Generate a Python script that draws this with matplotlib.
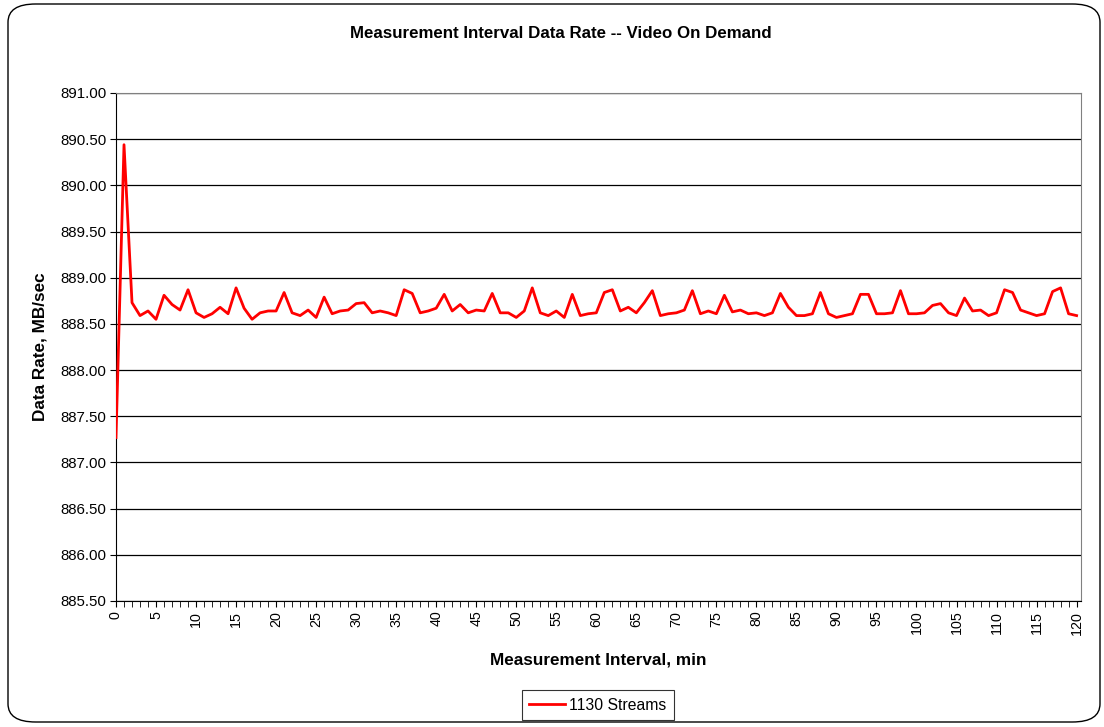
import matplotlib

matplotlib.use("Agg")
import matplotlib.pyplot as plt  # noqa: E402
from matplotlib.patches import FancyBboxPatch  # noqa: E402
from matplotlib.ticker import MultipleLocator  # noqa: E402

plt.rcParams["font.family"] = ["Liberation Sans", "DejaVu Sans"]

# Data rate per one-minute measurement interval (MB/sec).
intervals = list(range(121))
rate_1130 = [
    887.27, 890.44, 888.73, 888.59, 888.64, 888.55, 888.81, 888.71, 888.65, 888.87,
    888.62, 888.57, 888.61, 888.68, 888.61, 888.89, 888.67, 888.55, 888.62, 888.64,
    888.64, 888.84, 888.62, 888.59, 888.65, 888.57, 888.79, 888.61, 888.64, 888.65,
    888.72, 888.73, 888.62, 888.64, 888.62, 888.59, 888.87, 888.83, 888.62, 888.64,
    888.67, 888.82, 888.64, 888.71, 888.62, 888.65, 888.64, 888.83, 888.62, 888.62,
    888.57, 888.64, 888.89, 888.62, 888.59, 888.64, 888.57, 888.82, 888.59, 888.61,
    888.62, 888.84, 888.87, 888.64, 888.68, 888.62, 888.73, 888.86, 888.59, 888.61,
    888.62, 888.65, 888.86, 888.61, 888.64, 888.61, 888.81, 888.63, 888.65, 888.61,
    888.62, 888.59, 888.62, 888.83, 888.68, 888.59, 888.59, 888.61, 888.84, 888.61,
    888.57, 888.59, 888.61, 888.82, 888.82, 888.61, 888.61, 888.62, 888.86, 888.61,
    888.61, 888.62, 888.70, 888.72, 888.62, 888.59, 888.78, 888.64, 888.65, 888.59,
    888.62, 888.87, 888.84, 888.65, 888.62, 888.59, 888.61, 888.85, 888.89, 888.61,
    888.59,
]
series_label = "1130 Streams"

W, H = 1104, 727
fig = plt.figure(figsize=(W / 100, H / 100), dpi=100, facecolor="white")

# rounded chart-area frame (outline only, drawn behind the axes)
frame = FancyBboxPatch((8 / W, 5 / H), 1092 / W, 718 / H,
                       boxstyle="round,pad=0,rounding_size=0.025",
                       transform=fig.transFigure, facecolor="none",
                       edgecolor="black", linewidth=1.0, zorder=0)
fig.patches.append(frame)

left, right, top, bottom = 116, 1081, 93, 601
ax = fig.add_axes([left / W, 1 - bottom / H, (right - left) / W, (bottom - top) / H])
ax.set_facecolor("white")
ax.set_zorder(2)

ax.plot(intervals, rate_1130, color="#ff0000", linewidth=2.0, label=series_label,
        zorder=3)

ax.set_xlim(0, 120.55)
ax.set_ylim(885.5, 891.0)
ax.yaxis.set_major_locator(MultipleLocator(0.5))
ax.yaxis.set_major_formatter(lambda v, _: f"{v:.2f}")
ax.xaxis.set_major_locator(MultipleLocator(5))
ax.xaxis.set_minor_locator(MultipleLocator(1))
ax.grid(True, axis="y", color="black", linewidth=0.9, zorder=1)

for side in ("top", "right"):
    ax.spines[side].set_color("#808080")
ax.spines["left"].set_color("black")
ax.spines["bottom"].set_color("black")

ax.tick_params(axis="y", direction="out", length=4, labelsize=10.8, pad=3)
ax.tick_params(axis="x", which="both", direction="out", length=4, labelsize=10.3,
               labelrotation=90, pad=3)

ax.set_ylabel("Data Rate, MB/sec", fontsize=12.3, fontweight="bold", labelpad=9)
ax.set_xlabel("Measurement Interval, min", fontsize=12.3, fontweight="bold",
              labelpad=13)
fig.text(561 / W, 1 - 33 / H, "Measurement Interval Data Rate -- Video On Demand",
         ha="center", va="center", fontsize=12.2, fontweight="bold")

leg = fig.legend(loc="center", bbox_to_anchor=(598 / W, 1 - 705 / H), frameon=True,
                 fancybox=False, fontsize=11.3, handlelength=2.3, borderpad=0.45,
                 handletextpad=0.25, borderaxespad=0)
leg.get_frame().set_edgecolor("black")
leg.get_frame().set_linewidth(0.8)

fig.savefig("out.png", dpi=100)
